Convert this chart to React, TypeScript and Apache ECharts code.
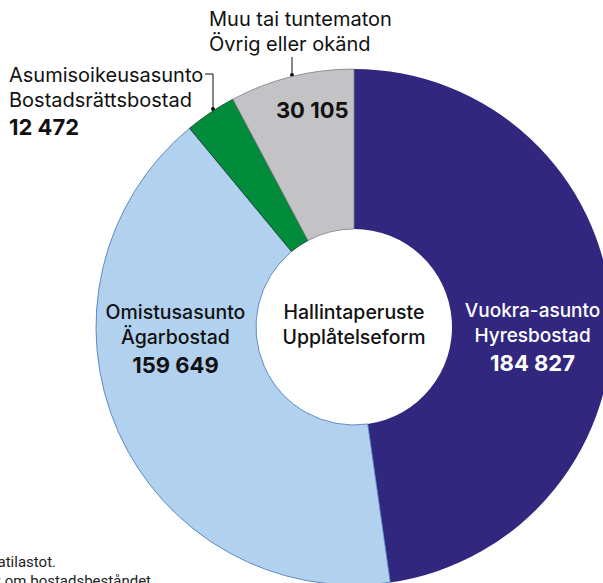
import React, { useEffect, useRef } from "react";
import * as echarts from "echarts";

const namesFi = ["Vuokra-asunto", "Omistusasunto", "Asumisoikeusasunto", "Muu tai tuntematon"];
const namesSv = ["Hyresbostad", "Ägarbostad", "Bostadsrättsbostad", "Övrig eller okänd"];
const values = [184827, 159649, 12472, 30105];
const colors = ["#31277f", "#b1d1ef", "#008c3b", "#c3c3c6"];
const borderColors = ["#31277f", "#3f74b3", "#1d3a2a", "#7e7e8c"];
const centerTitle = ["Hallintaperuste", "Upplåtelseform"];
const footnotes = [
  "Lähde: Tilastokeskus, asuntokantatilastot.",
  "Källa: Statistikcentralen, statistik om bostadsbeståndet",
];

const FONT = "Inter, 'Noto Sans', sans-serif";

function fmt(v: number): string {
  return String(v).replace(/\B(?=(\d{3})+(?!\d))/g, " ");
}

export default function App() {
  const ref = useRef<HTMLDivElement>(null);
  useEffect(() => {
    if (!ref.current) return;
    const chart = echarts.init(ref.current, undefined, { renderer: "svg" });
    const insideLabel = (i: number, color: string, offset: number[], withName: boolean, fs = 19.5) => ({
      show: true,
      position: "inside",
      offset,
      formatter: withName
        ? `{n|${namesFi[i]}}\n{n|${namesSv[i]}}\n{v|${fmt(values[i])}}`
        : `{v|${fmt(values[i])}}`,
      rich: {
        n: { fontFamily: FONT, fontSize: fs, lineHeight: 25, color, fontWeight: 500 },
        v: { fontFamily: FONT, fontSize: 22, lineHeight: 31, color, fontWeight: "bold" },
      },
    });
    const labelCfg = [
      insideLabel(0, "#ffffff", [-2, 24], true, 19),
      insideLabel(1, "#111111", [-13, -60], true),
      { show: false },
      insideLabel(3, "#111111", [2, -41], false),
    ];
    const data = values.map((v, i) => ({
      value: v,
      name: namesFi[i],
      itemStyle: { color: colors[i], borderColor: borderColors[i], borderWidth: i === 0 ? 0 : 0.8 },
      label: labelCfg[i],
    }));
    chart.setOption({
      animation: false,
      series: [
        {
          type: "pie",
          center: [354, 327],
          radius: [98, 258],
          startAngle: 90,
          clockwise: true,
          silent: true,
          labelLine: { show: false },
          data,
        },
      ],
      graphic: [
        {
          type: "text",
          style: {
            text: centerTitle.join("\n"),
            x: 354,
            y: 324,
            align: "center",
            verticalAlign: "middle",
            fontFamily: FONT,
            fontSize: 19.5,
            fontWeight: 500,
            lineHeight: 25,
            fill: "#111111",
          },
        },
        {
          type: "text",
          style: {
            text: `${namesFi[2]}\n${namesSv[2]}`,
            x: 9,
            y: 62,
            align: "left",
            verticalAlign: "top",
            fontFamily: FONT,
            fontSize: 20,
            lineHeight: 25,
            fill: "#111111",
          },
        },
        {
          type: "text",
          style: {
            text: fmt(values[2]),
            x: 9,
            y: 116,
            align: "left",
            verticalAlign: "top",
            fontFamily: FONT,
            fontSize: 22,
            fontWeight: "bold",
            fill: "#111111",
          },
        },
        {
          type: "text",
          style: {
            text: `${namesFi[3]}\n${namesSv[3]}`,
            x: 209,
            y: 6,
            align: "left",
            verticalAlign: "top",
            fontFamily: FONT,
            fontSize: 20,
            lineHeight: 25,
            fill: "#111111",
          },
        },
        {
          type: "polyline",
          shape: { points: [[205, 74], [213, 74], [213, 109]] },
          style: { stroke: "#111111", lineWidth: 1, fill: "none" },
        },
        { type: "circle", shape: { cx: 213, cy: 109, r: 2 }, style: { fill: "#111111" } },
        {
          type: "line",
          shape: { x1: 292, y1: 57, x2: 292, y2: 75 },
          style: { stroke: "#111111", lineWidth: 1 },
        },
        { type: "circle", shape: { cx: 292, cy: 75, r: 2 }, style: { fill: "#111111" } },
        {
          type: "text",
          style: {
            text: footnotes[0],
            x: 56,
            y: 562,
            align: "right",
            verticalAlign: "middle",
            fontFamily: "Roboto, sans-serif",
            fontSize: 15,
            fill: "#222222",
          },
        },
        {
          type: "text",
          style: {
            text: footnotes[1],
            x: 151,
            y: 581,
            align: "right",
            verticalAlign: "middle",
            fontFamily: "Roboto, sans-serif",
            fontSize: 15,
            fill: "#222222",
          },
        },
      ],
    });
    return () => chart.dispose();
  }, []);
  return (
    <div
      ref={ref}
      style={{ position: "fixed", left: 0, top: 0, width: 603, height: 583, background: "#ffffff" }}
    />
  );
}
